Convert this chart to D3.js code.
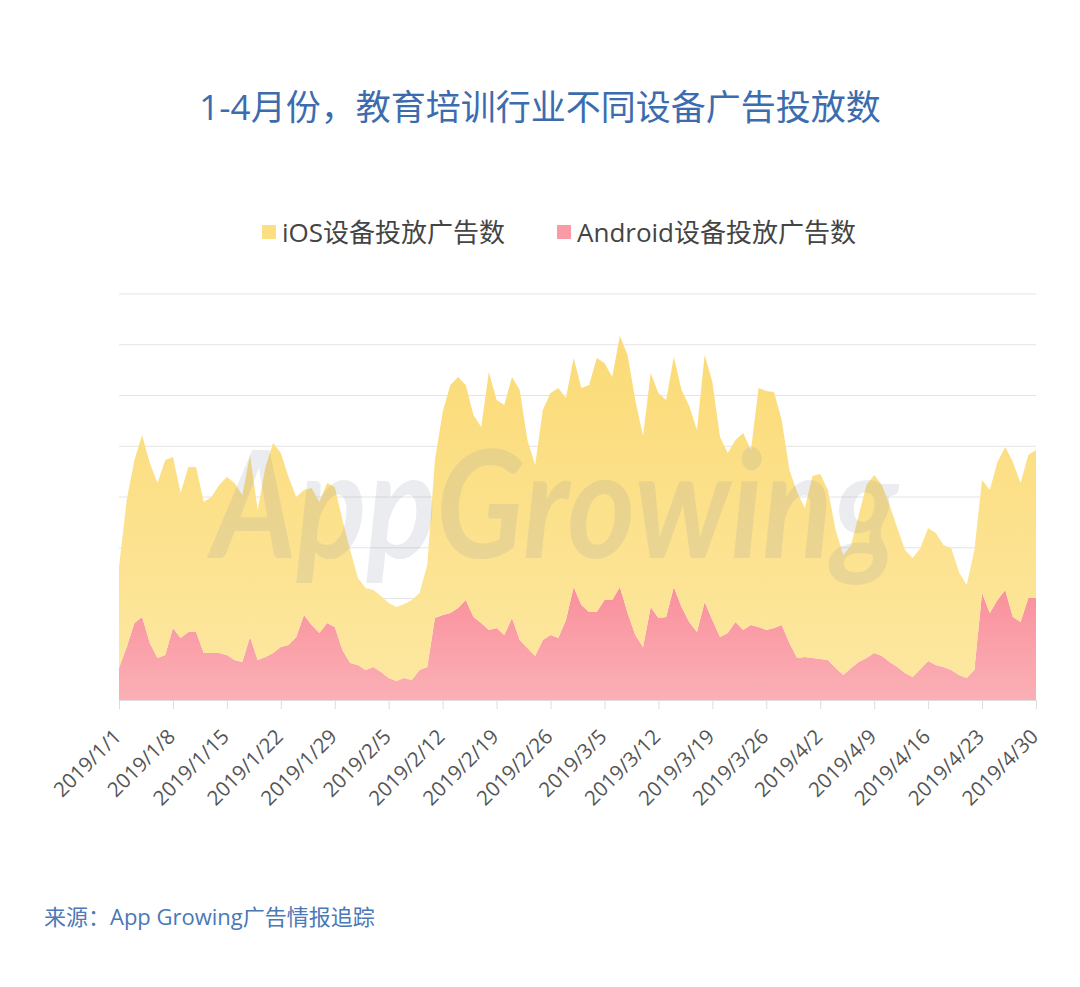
<!DOCTYPE html>
<html>
<head>
<meta charset="utf-8">
<script src="https://cdn.jsdelivr.net/npm/d3@7"></script>
<style>
  body { margin: 0; background: #ffffff; }
  svg { display: block; }
</style>
</head>
<body>
<div id="chart"></div>
<script>
// Chart data
var startDate = new Date(2019, 0, 1);
var endDate = new Date(2019, 3, 30);

var seriesNames = ['iOS设备投放广告数', 'Android设备投放广告数'];

// Android ads per day, 2019/1/1 .. 2019/4/30
var androidAds = [
  320, 530, 770, 830, 570, 420, 450, 720, 620, 680,
  680, 470, 470, 470, 450, 400, 380, 630, 400, 430,
  470, 530, 550, 630, 850, 750, 670, 770, 730, 500,
  370, 350, 300, 330, 280, 220, 190, 220, 200, 300,
  330, 820, 850, 870, 920, 1000, 830, 770, 700, 720,
  650, 820, 600, 520, 440, 600, 650, 620, 800, 1130,
  950, 880, 880, 1000, 1000, 1130, 870, 650, 530, 930,
  820, 830, 1130, 930, 780, 680, 980, 800, 630, 670,
  780, 700, 750, 730, 700, 720, 750, 570, 420, 430,
  420, 410, 400, 320, 250, 320, 380, 420, 470, 440,
  380, 330, 270, 230, 310, 390, 350, 330, 300, 250,
  220, 300, 1070, 870, 1000, 1100, 830, 780, 1020, 1020
];

// iOS ads per day (stacked on top of Android)
var iosAds = [
  1010, 1470, 1630, 1820, 1800, 1750, 1950, 1710, 1450, 1650,
  1650, 1510, 1560, 1680, 1780, 1770, 1670, 1820, 1500, 1900,
  2100, 1940, 1680, 1400, 1250, 1370, 1310, 1400, 1400, 1300,
  1130, 870, 820, 770, 760, 750, 740, 740, 800, 770,
  1020, 1580, 2030, 2280, 2310, 2150, 2020, 1960, 2580, 2280,
  2300, 2410, 2500, 2080, 1910, 2300, 2420, 2500, 2220, 2290,
  2170, 2270, 2540, 2370, 2230, 2510, 2580, 2350, 2110, 2340,
  2250, 2170, 2300, 2170, 2160, 2020, 2470, 2380, 2000, 1800,
  1820, 1970, 1750, 2390, 2390, 2360, 2050, 1730, 1660, 1490,
  1820, 1850, 1700, 1380, 1200, 1230, 1470, 1730, 1780, 1710,
  1570, 1390, 1230, 1190, 1210, 1330, 1320, 1220, 1220, 1030,
  930, 1200, 1130, 1230, 1380, 1430, 1550, 1390, 1430, 1480
];

var yMax = 4060;
var tickStepDays = 7;

// SVG area
var svgWidth = 1080;
var svgHeight = 987;

var plot = { left: 119, right: 1036, top: 294, bottom: 700 };

var svg = d3.select('#chart')
  .append('svg')
  .attr('width', svgWidth)
  .attr('height', svgHeight)
  .style('font-family', '"Open Sans", "Noto Sans CJK SC", sans-serif');

// build the table for the stack
var dates = d3.timeDays(startDate, d3.timeDay.offset(endDate, 1));
var table = dates.map(function (d, i) {
  return { date: d, android: androidAds[i], ios: iosAds[i] };
});

var stacked = d3.stack().keys(['android', 'ios'])(table);

// scales
var x = d3.scaleTime()
  .domain([startDate, endDate])
  .range([plot.left, plot.right]);

var y = d3.scaleLinear()
  .domain([0, yMax])
  .range([plot.bottom, plot.top]);

// gradients
var defs = svg.append('defs');

var yellowGrad = defs.append('linearGradient')
  .attr('id', 'gradIos')
  .attr('gradientUnits', 'userSpaceOnUse')
  .attr('x1', 0).attr('x2', 0)
  .attr('y1', plot.top).attr('y2', plot.bottom);
yellowGrad.append('stop').attr('offset', '0%').attr('stop-color', '#fbd971');
yellowGrad.append('stop').attr('offset', '100%').attr('stop-color', '#fde8a2');

var pinkGrad = defs.append('linearGradient')
  .attr('id', 'gradAndroid')
  .attr('gradientUnits', 'userSpaceOnUse')
  .attr('x1', 0).attr('x2', 0)
  .attr('y1', 580).attr('y2', plot.bottom);
pinkGrad.append('stop').attr('offset', '0%').attr('stop-color', '#f98e9a');
pinkGrad.append('stop').attr('offset', '100%').attr('stop-color', '#fbb0b6');

// title
svg.append('text')
  .attr('x', 540)
  .attr('y', 120)
  .attr('text-anchor', 'middle')
  .style('font-size', '35px')
  .style('fill', '#3d6cae')
  .text('1-4月份，教育培训行业不同设备广告投放数');

// legend
var legendItems = [
  { name: seriesNames[0], color: '#fcdf80', x: 262 },
  { name: seriesNames[1], color: '#fa9aa4', x: 557 }
];

var legend = svg.append('g');
legendItems.forEach(function (item) {
  legend.append('rect')
    .attr('x', item.x)
    .attr('y', 225)
    .attr('width', 14)
    .attr('height', 14)
    .style('fill', item.color);
  legend.append('text')
    .attr('x', item.x + 20)
    .attr('y', 242)
    .style('font-size', '26px')
    .style('fill', '#444444')
    .text(item.name);
});

// gridlines
var gridValues = d3.range(0, 9).map(function (i) { return (yMax / 8) * i; });
svg.append('g')
  .selectAll('line')
  .data(gridValues)
  .enter()
  .append('line')
  .attr('x1', plot.left)
  .attr('x2', plot.right)
  .attr('y1', function (d) { return y(d); })
  .attr('y2', function (d) { return y(d); })
  .style('stroke', '#e4e4e4')
  .style('stroke-width', 1);

// stacked areas
var area = d3.area()
  .x(function (d) { return x(d.data.date); })
  .y0(function (d) { return y(d[0]); })
  .y1(function (d) { return y(d[1]); })
  .curve(d3.curveLinear);

var fills = { android: 'url(#gradAndroid)', ios: 'url(#gradIos)' };

svg.append('g')
  .selectAll('path')
  .data(stacked)
  .enter()
  .append('path')
  .attr('d', area)
  .style('fill', function (d) { return fills[d.key]; });

// watermark
svg.append('text')
  .attr('x', 212)
  .attr('y', 558)
  .attr('textLength', 686)
  .attr('lengthAdjust', 'spacingAndGlyphs')
  .style('font-size', '150px')
  .style('font-style', 'italic')
  .style('font-weight', 'bold')
  .style('font-family', 'Lato, sans-serif')
  .style('fill', '#8a90a6')
  .style('opacity', 0.16)
  .text('AppGrowing');

// x axis, one tick per week counted from 1/1
var xTicks = dates.filter(function (d, i) { return i % tickStepDays === 0; });
var xAxis = d3.axisBottom(x)
  .tickValues(xTicks)
  .tickSize(9)
  .tickSizeOuter(0)
  .tickFormat(d3.timeFormat('%Y/%-m/%-d'));

var xAxisG = svg.append('g')
  .attr('transform', 'translate(0,' + plot.bottom + ')')
  .call(xAxis);

xAxisG.select('.domain').style('stroke', '#dddddd');
xAxisG.selectAll('.tick line').style('stroke', '#dddddd');
xAxisG.selectAll('.tick text')
  .attr('y', 0)
  .attr('dy', 0)
  .attr('transform', 'translate(3,38) rotate(-45)')
  .style('text-anchor', 'end')
  .style('font-size', '20.5px')
  .style('font-family', '"Open Sans", sans-serif')
  .style('fill', '#555555');

// source
svg.append('text')
  .attr('x', 44)
  .attr('y', 925)
  .style('font-size', '22px')
  .style('fill', '#4a78b8')
  .text('来源：App Growing广告情报追踪');
</script>
</body>
</html>
